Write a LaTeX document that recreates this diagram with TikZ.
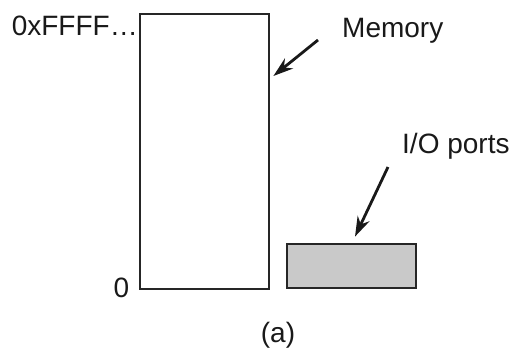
\documentclass[tikz,border=0pt]{standalone}
\usepackage{fontspec}
\setmainfont{Liberation Sans}
\usetikzlibrary{arrows.meta}

\begin{document}
\begin{tikzpicture}[x=1pt, y=-1pt, >={Stealth[length=20pt,width=13pt]},
  box/.style={draw=black!85, line width=2.8pt, inner sep=0pt},
  lbl/.style={font=\fontsize{28}{32}\selectfont, text=black!90, inner sep=0pt},
  ptr/.style={->, line width=2.8pt, draw=black!90, fill=black!90}]
\useasboundingbox (0,0) rectangle (516,359);
\node[box, minimum width=129pt, minimum height=275pt] (mem) at (204.5,151.5) {};
\node[box, fill=black!21, minimum width=129pt, minimum height=44pt] (io) at (351.5,266) {};
\node[lbl, anchor=base west] (memlbl) at (342,37) {Memory};
\node[lbl, anchor=base west] (iolbl) at (402,153) {I/O ports};
\node[lbl, anchor=base east] (toplbl) at (138,35) {0xFFFF\ldots};
\node[lbl] (zerolbl) at (121.5,288) {0};
\node[lbl] (caplbl) at (278,335) {(a)};
\coordinate (memtail) at (318,40);
\coordinate (iotail) at (388,167);
\draw[ptr] (memtail) -- ([xshift=3pt,yshift=75.5pt]mem.east);
\draw[ptr] (iotail) -- ([xshift=3.5pt,yshift=6pt]io.north);
\end{tikzpicture}
\end{document}
